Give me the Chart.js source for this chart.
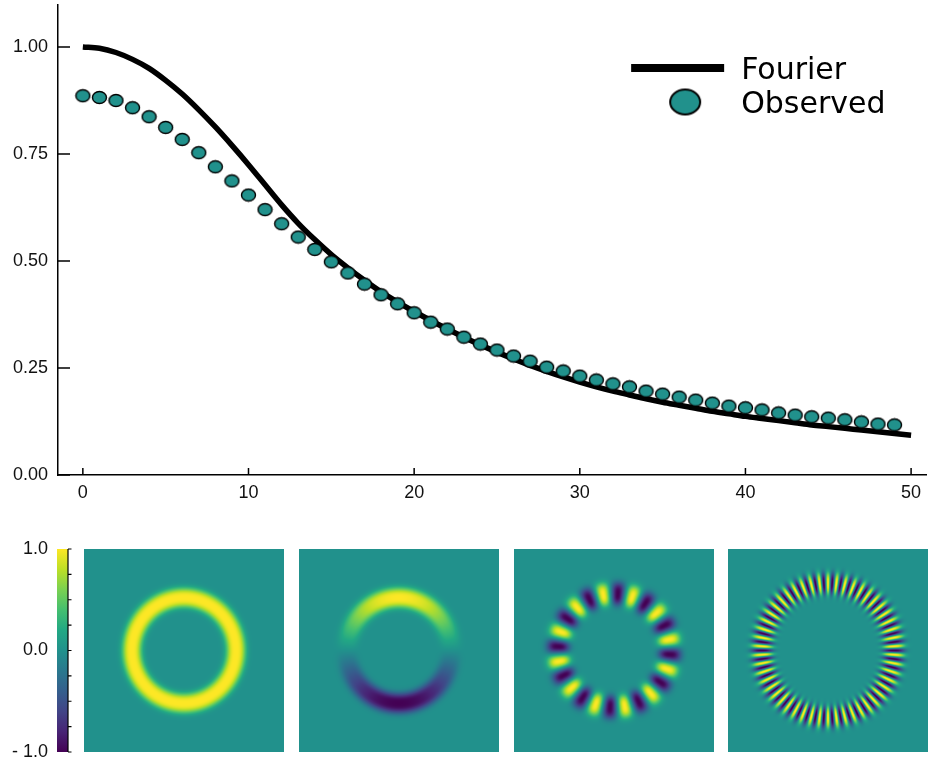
<!DOCTYPE html>
<html>
<head>
<meta charset="utf-8">
<title>Fourier vs observed</title>
<script src="https://cdn.jsdelivr.net/npm/chart.js@4.4.1/dist/chart.umd.min.js"></script>
<style>
  html, body { margin: 0; padding: 0; background: #fff; }
  #wrap { position: relative; width: 928px; height: 764px; }
  #curveBox { position: absolute; left: 0; top: 0; width: 928px; height: 505px; }
  #modeBox { position: absolute; left: 0; top: 530px; width: 928px; height: 234px; }
</style>
</head>
<body>
<div id="wrap">
  <div id="curveBox"><canvas id="curveChart"></canvas></div>
  <div id="modeBox"><canvas id="modeChart"></canvas></div>
</div>
<script>
// --- curve data ---
const fourierX = [0,1,2,3,4,5,6,7,8,9,10,11,12,13,14,15,16,17,18,19,20,21,22,23,24,25,
  26,27,28,29,30,31,32,33,34,35,36,37,38,39,40,41,42,43,44,45,46,47,48,49,50];
const fourierY = [1.000,0.997,0.987,0.971,0.950,0.922,0.890,0.853,0.813,0.770,
  0.725,0.678,0.631,0.588,0.550,0.515,0.484,0.455,0.428,0.404,
  0.382,0.361,0.341,0.322,0.304,0.287,0.271,0.256,0.242,0.229,
  0.217,0.206,0.196,0.187,0.178,0.170,0.163,0.156,0.149,0.143,
  0.137,0.132,0.127,0.122,0.117,0.113,0.109,0.105,0.101,0.097,0.093];
const observedX = [0,1,2,3,4,5,6,7,8,9,10,11,12,13,14,15,16,17,18,19,20,21,22,23,24,
  25,26,27,28,29,30,31,32,33,34,35,36,37,38,39,40,41,42,43,44,45,46,47,48,49];
const observedY = [0.886,0.882,0.875,0.858,0.837,0.812,0.784,0.753,0.720,0.687,
  0.654,0.620,0.587,0.556,0.527,0.498,0.472,0.446,0.421,0.400,
  0.379,0.357,0.341,0.322,0.306,0.292,0.278,0.266,0.252,0.243,
  0.231,0.222,0.213,0.206,0.196,0.189,0.182,0.175,0.168,0.161,
  0.157,0.152,0.145,0.140,0.136,0.133,0.129,0.124,0.119,0.117];
const xTickStep = 10;
const yTickStep = 0.25;

// --- mode images (ring * cos(m * theta)) ---
const modeOrder = [0, 1, 12, 50];
const modePeakAngle = [90, 90, 101, 90];      // degrees
const ringRadius = [0.52, 0.52, 0.56, 0.66];  // fraction of panel half-size
const ringWidth = [0.078, 0.08, 0.09, 0.085];
const colorbarTicks = [-1, -0.75, -0.5, -0.25, 0, 0.25, 0.5, 0.75, 1];
const colorbarLabels = ['- 1.0', '', '', '', '0.0', '', '', '', '1.0'];

const viridis = ['#440154', '#482475', '#414487', '#355f8d', '#2a788e', '#21918c',
  '#22a884', '#44bf70', '#7ad151', '#bddf26', '#fde725'];
const teal = '#21918c';
const tickFont = { family: "'Liberation Sans', Arial, sans-serif", size: 18 };

Chart.defaults.color = '#111';
Chart.defaults.font.family = tickFont.family;

function ellipseMarker(rx, ry, lw) {
  const c = document.createElement('canvas');
  c.width = Math.ceil(2 * rx + 2 * lw);
  c.height = Math.ceil(2 * ry + 2 * lw);
  const g = c.getContext('2d');
  g.beginPath();
  g.ellipse(c.width / 2, c.height / 2, rx, ry, 0, 0, 2 * Math.PI);
  g.fillStyle = teal;
  g.fill();
  g.lineWidth = lw;
  g.strokeStyle = '#000';
  g.stroke();
  return c;
}

const dotMarker = ellipseMarker(7, 6, 1.4);
const legendMarker = ellipseMarker(15, 12.5, 2);

// keep the axes flush with the plot edges
function noEdgePadding(s) {
  s.paddingTop = 0; s.paddingBottom = 0; s.paddingLeft = 0; s.paddingRight = 0;
}

// ticks point into the plot, legend sits in the upper right
const curveDecor = {
  id: 'curveDecor',
  afterDraw(chart) {
    const { ctx, chartArea, scales: { x, y } } = chart;
    ctx.save();
    ctx.strokeStyle = '#000';
    ctx.lineWidth = 1.5;
    ctx.beginPath();
    y.ticks.forEach(t => {
      const py = y.getPixelForValue(t.value);
      ctx.moveTo(chartArea.left, py);
      ctx.lineTo(chartArea.left + 12, py);
    });
    x.ticks.forEach(t => {
      const px = x.getPixelForValue(t.value);
      ctx.moveTo(px, chartArea.bottom);
      ctx.lineTo(px, chartArea.bottom - 7);
    });
    ctx.stroke();

    const ds = chart.data.datasets;
    const lx = x.getPixelForValue(33.1);
    ctx.fillStyle = '#000';
    ctx.fillRect(lx, 64, 93, 8);
    ctx.drawImage(legendMarker, lx + 54 - legendMarker.width / 2, 102 - legendMarker.height / 2);
    ctx.font = "30px 'DejaVu Sans', sans-serif";
    ctx.textBaseline = 'alphabetic';
    ctx.fillText(ds[1].label, lx + 110, 79);
    ctx.fillText(ds[0].label, lx + 110, 113);
    ctx.restore();
  }
};

new Chart(document.getElementById('curveChart'), {
  type: 'scatter',
  data: {
    datasets: [
      {
        type: 'scatter',
        label: 'Observed',
        data: observedX.map((v, i) => ({ x: v, y: observedY[i] })),
        pointStyle: dotMarker,
        pointRadius: 7,
        backgroundColor: teal,
        borderColor: '#000'
      },
      {
        type: 'line',
        label: 'Fourier',
        data: fourierX.map((v, i) => ({ x: v, y: fourierY[i] })),
        borderColor: '#000',
        borderWidth: 5.5,
        pointRadius: 0,
        cubicInterpolationMode: 'monotone',
        fill: false
      }
    ]
  },
  options: {
    responsive: true,
    maintainAspectRatio: false,
    animation: false,
    layout: { autoPadding: false, padding: { top: 5, right: 2, left: 0, bottom: 0 } },
    plugins: { legend: { display: false }, tooltip: { enabled: false } },
    scales: {
      x: {
        type: 'linear',
        min: -1.5,
        max: 50.9,
        afterFit: s => { s.height = 30; noEdgePadding(s); },
        grid: { display: false, drawTicks: false },
        border: { display: true, color: '#000', width: 1.5 },
        ticks: { stepSize: xTickStep, includeBounds: false, padding: 7, font: tickFont, maxRotation: 0 }
      },
      y: {
        type: 'linear',
        min: 0,
        max: 1.098,
        afterFit: s => { s.width = 58; noEdgePadding(s); },
        grid: { display: false, drawTicks: false },
        border: { display: true, color: '#000', width: 1.5 },
        ticks: {
          stepSize: yTickStep,
          includeBounds: false,
          padding: 10,
          font: tickFont,
          callback: v => v.toFixed(2)
        }
      }
    }
  },
  plugins: [curveDecor]
});

function viridisAt(t) {
  t = Math.max(0, Math.min(1, t)) * (viridis.length - 1);
  const i = Math.min(viridis.length - 2, Math.floor(t));
  const f = t - i;
  const a = parseInt(viridis[i].slice(1), 16), b = parseInt(viridis[i + 1].slice(1), 16);
  const mix = sh => Math.round(((a >> sh) & 255) * (1 - f) + ((b >> sh) & 255) * f);
  return [mix(16), mix(8), mix(0)];
}

// colour bar on the value axis, then the four mode images
const modePanels = {
  id: 'modePanels',
  afterDraw(chart) {
    const { ctx, chartArea, scales: { y } } = chart;
    const top = y.getPixelForValue(y.max);
    const bottom = y.getPixelForValue(y.min);
    const barRight = y.right - 16;
    const barLeft = barRight - 11;

    ctx.save();
    const grad = ctx.createLinearGradient(0, bottom, 0, top);
    viridis.forEach((c, i) => grad.addColorStop(i / (viridis.length - 1), c));
    ctx.fillStyle = grad;
    ctx.fillRect(barLeft, top, barRight - barLeft, bottom - top);
    ctx.strokeStyle = '#000';
    ctx.lineWidth = 1.2;
    ctx.beginPath();
    ctx.moveTo(barRight, top);
    ctx.lineTo(barRight, bottom);
    y.ticks.forEach(t => {
      const py = y.getPixelForValue(t.value);
      ctx.moveTo(barRight, py);
      ctx.lineTo(barRight + 3.5, py);
    });
    ctx.stroke();

    const n = modeOrder.length;
    const gap = 15;
    const w = Math.round((chartArea.width - gap * (n - 1)) / n);
    const h = Math.round(chartArea.bottom - chartArea.top);
    for (let k = 0; k < n; k++) {
      const off = document.createElement('canvas');
      off.width = w; off.height = h;
      const g = off.getContext('2d');
      const img = g.createImageData(w, h);
      const m = modeOrder[k];
      const phi = modePeakAngle[k] * Math.PI / 180;
      for (let py = 0; py < h; py++) {
        const v = (h / 2 - py - 0.5) / (h / 2);
        for (let px = 0; px < w; px++) {
          const u = (px + 0.5 - w / 2) / (w / 2);
          const r = Math.hypot(u, v);
          const th = Math.atan2(v, u);
          const d = Math.abs(r - ringRadius[k]) / ringWidth[k];
          const val = Math.exp(-0.5 * d * d * d) * Math.cos(m * (th - phi));
          const rgb = viridisAt((val - y.min) / (y.max - y.min));
          const o = (py * w + px) * 4;
          img.data[o] = rgb[0]; img.data[o + 1] = rgb[1]; img.data[o + 2] = rgb[2]; img.data[o + 3] = 255;
        }
      }
      g.putImageData(img, 0, 0);
      const left = k === n - 1 ? chartArea.right - w : chartArea.left + k * (w + gap);
      ctx.drawImage(off, left, chartArea.top);
    }
    ctx.restore();
  }
};

new Chart(document.getElementById('modeChart'), {
  type: 'scatter',
  data: { datasets: [{ data: [] }] },
  options: {
    responsive: true,
    maintainAspectRatio: false,
    animation: false,
    layout: { autoPadding: false, padding: { top: 19, right: 0, left: 0, bottom: 12 } },
    plugins: { legend: { display: false }, tooltip: { enabled: false } },
    scales: {
      x: { display: false, min: 0, max: 1 },
      y: {
        type: 'linear',
        min: -1,
        max: 1,
        afterFit: s => { s.width = 84; noEdgePadding(s); },
        afterBuildTicks: s => { s.ticks = colorbarTicks.map(v => ({ value: v })); },
        grid: { display: false, drawTicks: false },
        border: { display: false },
        ticks: {
          padding: 36,
          font: tickFont,
          autoSkip: false,
          callback: (v, i) => colorbarLabels[i]
        }
      }
    }
  },
  plugins: [modePanels]
});
</script>
</body>
</html>
